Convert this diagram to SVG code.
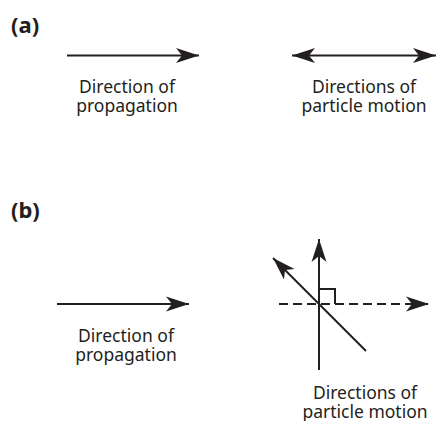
<svg xmlns="http://www.w3.org/2000/svg" width="438" height="421" viewBox="0 0 438 421">
<style>
.lbl{font-family:"Noto Sans","Open Sans",sans-serif;font-weight:bold;font-size:22px;fill:#231f20}
.txt{font-family:"Noto Sans","Open Sans",sans-serif;font-size:17.5px;fill:#231f20;text-anchor:middle}
.ln{stroke:#231f20;stroke-width:2;fill:none}
.dash{stroke-dasharray:9 5}
</style>
<defs>
<marker id="ah" markerUnits="userSpaceOnUse" markerWidth="26" markerHeight="18" viewBox="-24 -9 26 18" refX="0" refY="0" orient="auto-start-reverse">
<path d="M0,0 L-23,-7.5 L-17,0 L-23,7.5 Z" fill="#231f20"/>
</marker>
</defs>
<rect width="438" height="421" fill="#fff"/>
<g id="label-a"><text class="lbl" x="11" y="33">(a)</text></g>
<g id="label-b"><text class="lbl" x="11" y="218">(b)</text></g>
<g id="connectors">
<line id="prop-a" class="ln" x1="67" y1="55.5" x2="199" y2="55.5" marker-end="url(#ah)"/>
<line id="motion-a" class="ln" x1="292" y1="55.5" x2="436" y2="55.5" marker-start="url(#ah)" marker-end="url(#ah)"/>
<line id="prop-b" class="ln" x1="57" y1="304" x2="189" y2="304" marker-end="url(#ah)"/>
<line id="prop-dash" class="ln dash" x1="279" y1="304" x2="429" y2="304" marker-end="url(#ah)"/>
<line id="vert" class="ln" x1="319" y1="370" x2="319" y2="239" marker-end="url(#ah)"/>
<line id="diag" class="ln" x1="366" y1="351" x2="273" y2="258" marker-end="url(#ah)"/>
<polyline id="right-angle" class="ln" stroke-width="1.5" points="319,289 335,289 335,304"/>
</g>
<g id="text-prop-a"><text class="txt" x="127" y="92.5">Direction of</text><text class="txt" x="127" y="112">propagation</text></g>
<g id="text-motion-a"><text class="txt" x="364" y="92.5">Directions of</text><text class="txt" x="364" y="112">particle motion</text></g>
<g id="text-prop-b"><text class="txt" x="126" y="341.5">Direction of</text><text class="txt" x="126" y="361">propagation</text></g>
<g id="text-motion-b"><text class="txt" x="365" y="399">Directions of</text><text class="txt" x="365" y="417.5">particle motion</text></g>
</svg>
